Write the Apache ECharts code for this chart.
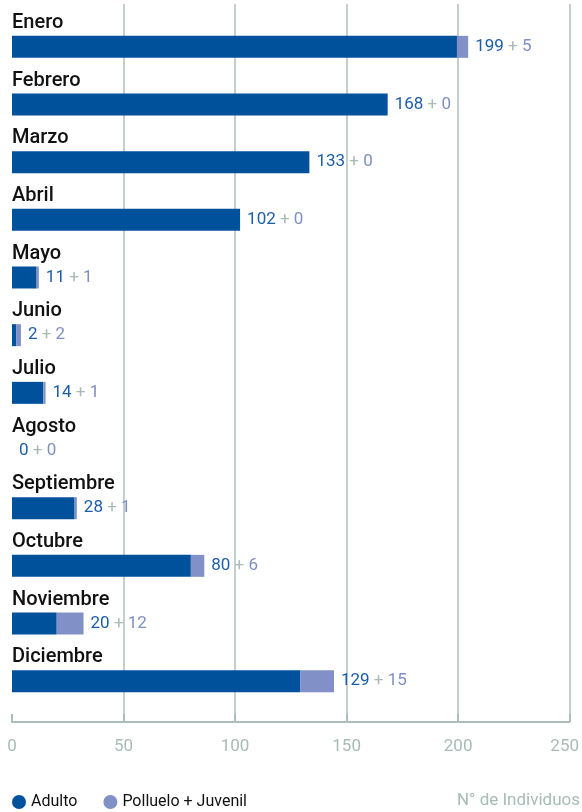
<!DOCTYPE html>
<html><head><meta charset="utf-8">
<script src="https://cdn.jsdelivr.net/npm/echarts@6/dist/echarts.min.js"></script>
<style>html,body{margin:0;padding:0;background:#fff}#c{width:582px;height:812px}</style>
</head><body><div id="c"></div>
<script>
var months = ['Enero','Febrero','Marzo','Abril','Mayo','Junio','Julio','Agosto','Septiembre','Octubre','Noviembre','Diciembre'];
var adulto = [199,168,133,102,11,2,14,0,28,80,20,129];
var juvenil = [5,0,0,0,1,2,1,0,1,6,12,15];
var xTicks = [0,50,100,150,200,250];

var FONT = 'Roboto,"Liberation Sans",sans-serif';
var DARK = '#00519c', LIGHT = '#8190c6';
var chart = echarts.init(document.getElementById('c'), null, {renderer:'canvas'});
chart.setOption({
  animation:false,
  textStyle:{fontFamily:FONT},
  grid:[
    {left:12, right:11, top:18, bottom:102},
    {left:12, right:11, top:4, bottom:90}
  ],
  legend:{
    data:['Adulto','Polluelo + Juvenil'],
    left:12, top:794, padding:0, icon:'circle', itemWidth:14, itemHeight:14, itemGap:26,
    textStyle:{fontFamily:FONT, fontSize:16, color:'#111'}
  },
  graphic:[{type:'text', right:2, top:792, style:{text:'N° de Individuos', fontFamily:FONT, fontSize:17, fill:'#a7bbb7'}}],
  xAxis:[
    {gridIndex:0, type:'value', min:0, max:250, interval:50, show:false},
    {gridIndex:1, type:'value', min:xTicks[0], max:xTicks[xTicks.length-1], interval:50,
     axisLine:{show:true, lineStyle:{color:'#abbebb', width:2}},
     axisTick:{show:true, inside:true, length:8, lineStyle:{color:'#abbebb', width:2}},
     splitLine:{show:true, showMinLine:false, lineStyle:{color:'#c3cfcd', width:2}},
     axisLabel:{margin:16, fontFamily:FONT, fontSize:17, color:'#a7bbb7',
       formatter:function(v){ return v===250 ? '{m|'+v+'}' : ''+v; },
       rich:{m:{fontFamily:FONT, fontSize:17, color:'#a7bbb7', padding:[0,10,0,0]}}}
    }
  ],
  yAxis:[
    {gridIndex:0, type:'category', data:months, inverse:true,
     axisLine:{show:false}, axisTick:{show:false}, splitLine:{show:false},
     axisLabel:{inside:true, margin:0, align:'left', verticalAlign:'bottom', padding:[0,0,14,0],
       fontFamily:FONT, fontSize:20, fontWeight:500, color:'#111'}},
    {gridIndex:1, type:'value', show:false}
  ],
  series:[
    {name:'Adulto', type:'bar', stack:'t', data:adulto, barWidth:22, itemStyle:{color:DARK}, xAxisIndex:0, yAxisIndex:0},
    {name:'Polluelo + Juvenil', type:'bar', stack:'t', data:juvenil, barWidth:22, itemStyle:{color:LIGHT}, xAxisIndex:0, yAxisIndex:0,
     label:{show:true, position:'right', distance:7,
       formatter:function(p){ return '{a|'+adulto[p.dataIndex]+'}{p| + }{b|'+juvenil[p.dataIndex]+'}'; },
       rich:{
         a:{fontFamily:FONT, fontSize:17, color:'#1c5ea8'},
         p:{fontFamily:FONT, fontSize:17, color:'#a7bbb7'},
         b:{fontFamily:FONT, fontSize:17, color:'#7f8fc4'}
       }}
    }
  ]
});
</script></body></html>
